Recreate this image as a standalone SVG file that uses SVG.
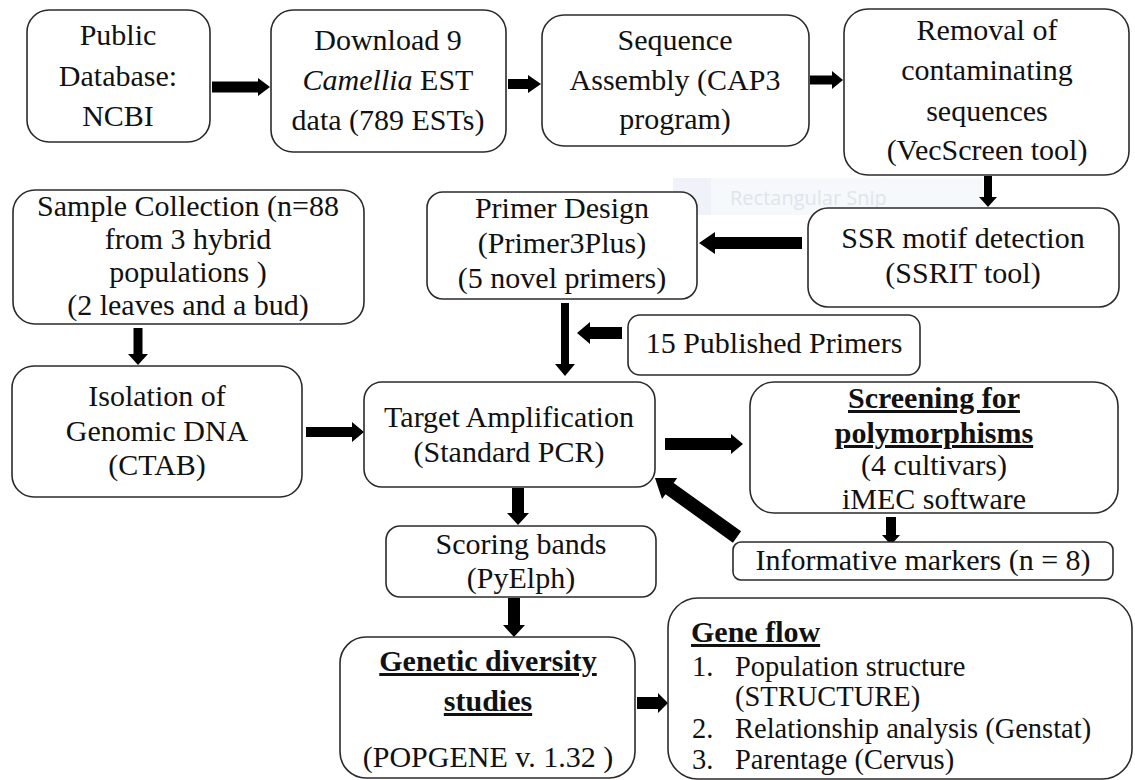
<svg xmlns="http://www.w3.org/2000/svg" width="1135" height="780" viewBox="0 0 1135 780">
<style>
.box{fill:#fff;stroke:#2b2b2b;stroke-width:1.6}
.t{font-family:"Liberation Serif","Times New Roman",serif;font-size:30px;fill:#111;text-anchor:middle}
.l{text-anchor:start}
.s{font-size:28.5px}
.b{font-weight:bold;text-decoration:underline}
.arr{fill:#000}
</style>
<rect width="1135" height="780" fill="#fff"/>
<g id="snip" opacity="0.85">
<rect x="673" y="178" width="310" height="37" fill="#f4f8fc"/>
<rect x="673" y="178" width="38" height="37" fill="#edf2f9"/>
<text x="730" y="205" font-family="'Open Sans','Liberation Sans',sans-serif" font-size="20" fill="#dbe1e8">Rectangular Snip</text>
</g>
<g id="connectors" class="arr">
<path d="M212 81.5H258V78L270 87L258 96V92.5H212Z"/>
<path d="M508 79H528V75L541 84L528 93V89H508Z"/>
<path d="M810 75.5H832V71L843 80L832 89V84.5H810Z"/>
<path d="M984 176V197H979L988 207L997 197H992V176Z"/>
<path d="M802 237H715V232L699 243L715 254V249H802Z"/>
<path d="M622 327H590V322L577 333L590 344V339H622Z"/>
<path d="M561 303V364H555L565 376L575 364H569V303Z"/>
<path d="M133.5 328V354H128L138 365L148 354H142.5V328Z"/>
<path d="M306 427H352V422L364 432L352 442V437H306Z"/>
<path d="M665 438H731V434L743 444L731 454V450H665Z"/>
<path d="M886 517V535H882L891 545L900 535H896V517Z"/>
<path d="M512 488V513H507L518 525L529 513H524V488Z"/>
<path d="M508 598V625H503L514 637L525 625H520V598Z"/>
<path d="M637 697H658V693L668 703L658 713V709H637Z"/>
<path transform="translate(737 537) rotate(-144.3)" d="M0 -7H83V-13L101 0L83 13V7H0Z"/>
</g>
<g id="n1"><rect class="box" x="27" y="10" width="183" height="132" rx="22"/>
<text class="t" x="118" y="45">Public</text><text class="t" x="118" y="86">Database:</text><text class="t" x="118" y="126">NCBI</text></g>
<g id="n2"><rect class="box" x="271" y="10" width="235" height="142" rx="22"/>
<text class="t" x="388" y="50">Download 9</text><text class="t" x="388" y="90"><tspan font-style="italic">Camellia</tspan> EST</text><text class="t" x="388" y="130">data (789 ESTs)</text></g>
<g id="n3"><rect class="box" x="542" y="15" width="267" height="131" rx="22"/>
<text class="t" x="675" y="50">Sequence</text><text class="t" x="675" y="90">Assembly (CAP3</text><text class="t" x="675" y="129">program)</text></g>
<g id="n4"><rect class="box" x="844" y="9" width="285" height="166" rx="24"/>
<text class="t" x="987" y="40">Removal of</text><text class="t" x="987" y="80">contaminating</text><text class="t" x="987" y="121">sequences</text><text class="t" x="987" y="160">(VecScreen tool)</text></g>
<g id="n5"><rect class="box" x="13" y="190" width="351" height="134" rx="22"/>
<text class="t" x="188" y="216">Sample Collection (n=88</text><text class="t" x="188" y="249">from 3 hybrid</text><text class="t" x="188" y="282">populations )</text><text class="t" x="188" y="315">(2 leaves and a bud)</text></g>
<g id="n6"><rect class="box" x="427" y="192" width="270" height="107" rx="16"/>
<text class="t" x="562" y="218">Primer Design</text><text class="t" x="562" y="253">(Primer3Plus)</text><text class="t" x="562" y="288">(5 novel primers)</text></g>
<g id="n7"><rect class="box" x="808" y="208" width="311" height="99" rx="20"/>
<text class="t" x="963" y="248">SSR motif detection</text><text class="t" x="963" y="283">(SSRIT tool)</text></g>
<g id="n8"><rect class="box" x="628" y="315" width="292" height="60" rx="12"/>
<text class="t" x="774" y="353">15 Published Primers</text></g>
<g id="n9"><rect class="box" x="12" y="366" width="290" height="131" rx="22"/>
<text class="t" x="157" y="406">Isolation of</text><text class="t" x="157" y="441">Genomic DNA</text><text class="t" x="157" y="475">(CTAB)</text></g>
<g id="n10"><rect class="box" x="364" y="382" width="291" height="105" rx="18"/>
<text class="t" x="509" y="427">Target Amplification</text><text class="t" x="509" y="462">(Standard PCR)</text></g>
<g id="n11"><rect class="box" x="750" y="382" width="368" height="131" rx="24"/>
<text class="t b" x="934" y="408">Screening for</text><text class="t b" x="934" y="443">polymorphisms</text><text class="t" x="934" y="475">(4 cultivars)</text><text class="t" x="934" y="509">iMEC software</text></g>
<g id="n12"><rect class="box" x="733" y="542" width="380" height="38" rx="8"/>
<text class="t" x="923" y="570">Informative markers (n = 8)</text></g>
<g id="n13"><rect class="box" x="386" y="526" width="270" height="71" rx="14"/>
<text class="t" x="521" y="554">Scoring bands</text><text class="t" x="521" y="588">(PyElph)</text></g>
<g id="n14"><rect class="box" x="340" y="637" width="295" height="141" rx="26"/>
<text class="t b" x="488" y="671">Genetic diversity</text><text class="t b" x="488" y="711">studies</text><text class="t" x="488" y="767">(POPGENE v. 1.32 )</text></g>
<g id="n15"><rect class="box" x="668" y="598" width="464" height="181" rx="30"/>
<text class="t l b" x="691" y="642">Gene flow</text>
<text class="t l s" x="692" y="676">1.</text><text class="t l s" x="735" y="676">Population structure</text>
<text class="t l s" x="735" y="706">(STRUCTURE)</text>
<text class="t l s" x="692" y="738">2.</text><text class="t l s" x="735" y="738">Relationship analysis (Genstat)</text>
<text class="t l s" x="692" y="769">3.</text><text class="t l s" x="735" y="769">Parentage (Cervus)</text></g>
</svg>
